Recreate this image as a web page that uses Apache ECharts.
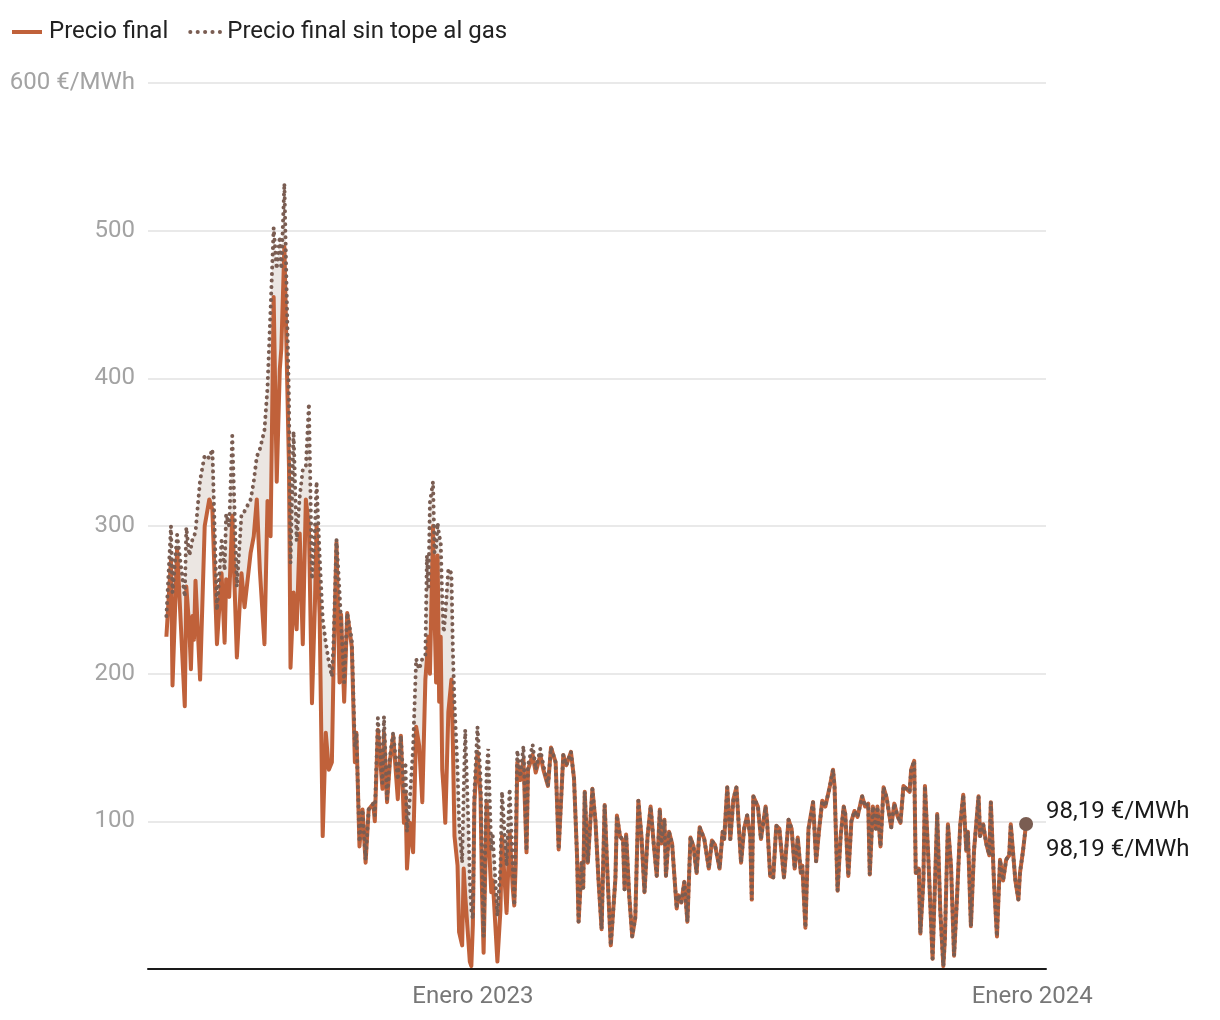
<!DOCTYPE html>
<html><head><meta charset="utf-8">
<script src="https://cdn.jsdelivr.net/npm/echarts@6/dist/echarts.min.js"></script>
<style>html,body{margin:0;padding:0;background:#fff}#c{width:1220px;height:1020px}</style>
</head><body><div id="c"></div>
<script>
// ---- data (€/MWh) ----
const dates = [
 '2022-06-15','2022-06-18','2022-06-19','2022-06-22','2022-06-27','2022-06-28','2022-06-30',
 '2022-07-01','2022-07-02','2022-07-03','2022-07-04','2022-07-07','2022-07-10','2022-07-13','2022-07-15','2022-07-18','2022-07-21','2022-07-23','2022-07-24','2022-07-26','2022-07-28','2022-07-31',
 '2022-08-03','2022-08-05','2022-08-09','2022-08-11','2022-08-13','2022-08-15','2022-08-18','2022-08-20','2022-08-22','2022-08-24','2022-08-26','2022-08-28','2022-08-29','2022-08-31',
 '2022-09-03','2022-09-04','2022-09-06','2022-09-08','2022-09-10','2022-09-12','2022-09-14','2022-09-16','2022-09-18','2022-09-20','2022-09-21','2022-09-23','2022-09-25','2022-09-27','2022-09-29',
 '2022-10-01','2022-10-02','2022-10-04','2022-10-06','2022-10-07','2022-10-09','2022-10-11','2022-10-14','2022-10-16','2022-10-17','2022-10-19','2022-10-21','2022-10-23','2022-10-25','2022-10-28','2022-10-29','2022-10-31',
 '2022-11-03','2022-11-04','2022-11-06','2022-11-08','2022-11-10','2022-11-13','2022-11-15','2022-11-17','2022-11-18','2022-11-19','2022-11-21','2022-11-23','2022-11-25','2022-11-27','2022-11-29',
 '2022-12-01','2022-12-02','2022-12-03','2022-12-04','2022-12-06','2022-12-07','2022-12-08','2022-12-09','2022-12-10','2022-12-11','2022-12-12','2022-12-13','2022-12-14','2022-12-16','2022-12-18','2022-12-19','2022-12-20','2022-12-22','2022-12-23','2022-12-25','2022-12-26','2022-12-27','2022-12-29','2022-12-30','2022-12-31',
 '2023-01-01','2023-01-02','2023-01-04','2023-01-06','2023-01-07','2023-01-08','2023-01-10','2023-01-11','2023-01-13','2023-01-14','2023-01-17','2023-01-19','2023-01-20','2023-01-23','2023-01-25','2023-01-27','2023-01-28','2023-01-29','2023-01-30',
 '2023-02-01','2023-02-03','2023-02-05','2023-02-06','2023-02-09','2023-02-11','2023-02-14','2023-02-16','2023-02-19','2023-02-21','2023-02-24','2023-02-26',
 '2023-03-01','2023-03-03','2023-03-06','2023-03-08','2023-03-10','2023-03-11','2023-03-13','2023-03-14','2023-03-15','2023-03-17','2023-03-20','2023-03-22','2023-03-24','2023-03-26','2023-03-28','2023-03-30',
 '2023-04-01','2023-04-04','2023-04-05','2023-04-07','2023-04-09','2023-04-10','2023-04-11','2023-04-13','2023-04-15','2023-04-17','2023-04-19','2023-04-21','2023-04-23','2023-04-25','2023-04-27','2023-04-29',
 '2023-05-01','2023-05-03','2023-05-04','2023-05-06','2023-05-07','2023-05-09','2023-05-11','2023-05-14','2023-05-15','2023-05-17','2023-05-19','2023-05-21','2023-05-23','2023-05-25','2023-05-27','2023-05-29',
 '2023-06-01','2023-06-04','2023-06-06','2023-06-08','2023-06-11','2023-06-13','2023-06-14','2023-06-16','2023-06-18','2023-06-20','2023-06-22','2023-06-25','2023-06-27','2023-06-29',
 '2023-07-01','2023-07-02','2023-07-03','2023-07-06','2023-07-08','2023-07-11','2023-07-12','2023-07-14','2023-07-16','2023-07-18','2023-07-20','2023-07-23','2023-07-26','2023-07-28','2023-07-30',
 '2023-08-01','2023-08-03','2023-08-04','2023-08-06','2023-08-08','2023-08-11','2023-08-13','2023-08-15','2023-08-17','2023-08-19','2023-08-22','2023-08-24','2023-08-25','2023-08-27','2023-08-29','2023-08-31',
 '2023-09-01','2023-09-03','2023-09-05','2023-09-07','2023-09-09','2023-09-12','2023-09-14','2023-09-16','2023-09-17','2023-09-19','2023-09-21','2023-09-22','2023-09-24','2023-09-26','2023-09-28',
 '2023-10-01','2023-10-03','2023-10-05','2023-10-07','2023-10-09','2023-10-11','2023-10-13','2023-10-14','2023-10-16','2023-10-17','2023-10-19','2023-10-20','2023-10-22','2023-10-23','2023-10-25','2023-10-28','2023-10-29','2023-10-31',
 '2023-11-02','2023-11-04','2023-11-05','2023-11-07','2023-11-09','2023-11-11','2023-11-13','2023-11-15','2023-11-17','2023-11-19','2023-11-20','2023-11-22','2023-11-24','2023-11-27','2023-11-28','2023-11-30',
 '2023-12-02','2023-12-04','2023-12-05','2023-12-07','2023-12-09','2023-12-11','2023-12-13','2023-12-15','2023-12-17','2023-12-18','2023-12-21','2023-12-23','2023-12-24','2023-12-26','2023-12-28'
];

const precioFinal = [
 225,277,192,285,178,259,230,
 203,239,223,263,196,300,318,311,220,268,221,264,252,307,211,
 268,245,282,293,318,270,220,317,293,455,330,406,420,489,
 340,204,255,230,295,220,318,300,180,250,300,240,90,160,135,
 140,200,289,194,240,181,241,218,140,160,83,108,72,108,112,100,162,
 122,160,113,142,158,115,158,99,120,68,99,79,164,151,113,
 196,210,225,200,300,240,194,280,181,225,135,120,99,174,196,150,90,70,25,16,68,50,20,5,2,
 30,113,147,117,50,11,113,95,52,60,5,40,90,38,92,55,43,72,140,
 128,142,79,135,145,133,145,135,124,150,140,81,
 145,138,147,129,76,32,72,55,120,72,122,100,60,27,111,60,
 16,61,104,90,87,54,91,50,22,35,114,90,52,90,110,85,
 63,108,85,101,63,93,85,41,50,45,59,32,89,83,65,96,
 88,68,87,84,68,93,88,123,88,115,123,72,95,104,
 90,47,117,110,88,110,100,63,62,97,95,62,101,95,68,
 89,65,70,28,95,113,73,95,114,110,124,135,124,53,90,110,
 105,63,100,107,103,117,110,112,64,110,95,110,83,123,116,
 96,112,104,99,124,122,120,135,141,65,68,24,60,124,80,7,40,105,
 40,2,20,98,70,9,50,97,118,80,93,29,80,117,90,98,
 85,77,113,60,22,74,60,74,77,98,60,47,65,80,98.19
];

const precioSinTope = [
 239,300,255,294,252,299,280,
 285,291,293,296,331,348,346,352,243,290,270,308,300,361,259,
 308,310,318,330,347,352,365,394,447,502,474,496,474,532,
 384,275,364,290,320,338,340,383,264,300,330,280,237,221,208,
 198,220,291,255,255,194,241,223,150,160,86,108,74,108,112,104,170,
 126,171,115,145,160,128,158,120,140,93,117,150,210,203,210,
 212,280,259,316,330,282,285,302,293,290,250,228,240,271,268,214,180,135,100,72,120,162,100,60,40,
 34,120,164,130,70,22,135,149,80,90,36,70,120,70,122,70,43,90,148,
 130,151,80,138,152,135,149,138,124,150,140,81,
 145,138,147,129,76,32,72,55,120,72,122,100,60,27,111,60,
 16,61,104,90,87,54,91,50,22,35,114,90,52,90,110,85,
 63,108,85,101,63,93,85,41,50,45,59,32,89,83,65,96,
 88,68,87,84,68,93,88,123,88,115,123,72,95,104,
 90,47,117,110,88,110,100,63,62,97,95,62,101,95,68,
 89,65,70,28,95,113,73,95,114,110,124,135,124,53,90,110,
 105,63,100,107,103,117,110,112,64,110,95,110,83,123,116,
 96,112,104,99,124,122,120,135,141,65,68,24,60,124,80,7,40,105,
 40,2,20,98,70,9,50,97,118,80,93,29,80,117,90,98,
 85,77,113,60,22,74,60,74,77,98,60,47,65,80,98.19
];

const seriesNames = ['Precio final', 'Precio final sin tope al gas'];
const xTickDates = ['2023-01-01', '2024-01-01'];
const xTickLabels = ['Enero 2023', 'Enero 2024'];
const xRange = ['2022-06-03', '2024-01-10'];
const unit = '€/MWh';

// ---- chart ----
const COL_FINAL = '#c0613a';
const COL_SIN = '#7a5d52';
const FONT = 'Roboto, "Noto Sans", sans-serif';

const chart = echarts.init(document.getElementById('c'), null, {renderer: 'canvas'});
const toTs = d => echarts.time.parse(d).getTime();
const tickTs = xTickDates.map(toTs);
const fmt = v => v.toFixed(2).replace('.', ',') + ' ' + unit;

const finalPairs = dates.map((d, i) => [d, precioFinal[i]]);
const sinPairs = dates.map((d, i) => [d, precioSinTope[i]]);
const gapPairs = dates.map((d, i) => [d, precioSinTope[i] - precioFinal[i]]);
const last = dates.length - 1;

chart.setOption({
  animation: false,
  backgroundColor: '#fff',
  textStyle: {fontFamily: FONT},
  grid: {left: 148, right: 174, top: 83, bottom: 51, containLabel: false},
  legend: {
    data: [
      {name: seriesNames[0], lineStyle: {width: 4, color: COL_FINAL, type: 'solid'}},
      {name: seriesNames[1], lineStyle: {width: 4, color: COL_SIN, type: [0.1, 7.3], cap: 'round'}}
    ],
    left: 5, top: 15,
    itemWidth: 30, itemHeight: 14, itemGap: 20,
    itemStyle: {opacity: 0},
    textStyle: {fontSize: 24, color: '#222', fontFamily: FONT, padding: [0, 0, 0, 2]}
  },
  xAxis: {
    type: 'time',
    min: xRange[0], max: xRange[1],
    splitNumber: 6,
    axisLine: {show: true, onZero: false, lineStyle: {color: '#1a1a1a', width: 2}},
    axisTick: {show: false},
    splitLine: {show: false},
    axisLabel: {
      formatter: v => { const i = tickTs.findIndex(t => Math.abs(t - v) < 3600e3); return i >= 0 ? xTickLabels[i] : ''; },
      color: '#777', fontSize: 24, margin: 16, fontFamily: FONT,
      hideOverlap: false, showMinLabel: false, showMaxLabel: false
    }
  },
  yAxis: {
    type: 'value', min: 0, max: 600, interval: 100,
    axisLine: {show: false}, axisTick: {show: false},
    splitLine: {show: true, lineStyle: {color: '#e2e2e2', width: 1.5}},
    axisLabel: {
      formatter: v => v === 0 ? '' : (v === 600 ? v + ' ' + unit : String(v)),
      color: '#a3a3a3', fontSize: 24, margin: 13, fontFamily: FONT
    }
  },
  series: [
    {
      name: '_base', type: 'line', stack: 'gap', data: finalPairs,
      symbol: 'none', silent: true, lineStyle: {opacity: 0}, z: 1
    },
    {
      name: '_gap', type: 'line', stack: 'gap', data: gapPairs,
      symbol: 'none', silent: true, lineStyle: {opacity: 0},
      areaStyle: {color: '#ebe6e2', opacity: 1}, z: 1
    },
    {
      name: seriesNames[0], type: 'line', data: finalPairs,
      symbol: 'none', z: 3,
      lineStyle: {color: COL_FINAL, width: 4, join: 'round'},
      itemStyle: {color: COL_FINAL},
      endLabel: {show: true, formatter: p => fmt(p.value[1]), color: '#1a1a1a', fontSize: 24,
                 fontFamily: FONT, offset: [12, 26]}
    },
    {
      name: seriesNames[1], type: 'line', data: sinPairs,
      symbol: 'none', z: 4,
      lineStyle: {color: COL_SIN, width: 4, type: [0.1, 6.4], cap: 'round'},
      itemStyle: {color: COL_SIN},
      endLabel: {show: true, formatter: p => fmt(p.value[1]), color: '#1a1a1a', fontSize: 24,
                 fontFamily: FONT, offset: [12, -12]}
    },
    {
      name: '_last', type: 'scatter', data: [[dates[last], precioSinTope[last]]],
      symbolSize: 14, itemStyle: {color: COL_SIN, opacity: 1}, silent: true, z: 5
    }
  ]
});
</script>
</body></html>
